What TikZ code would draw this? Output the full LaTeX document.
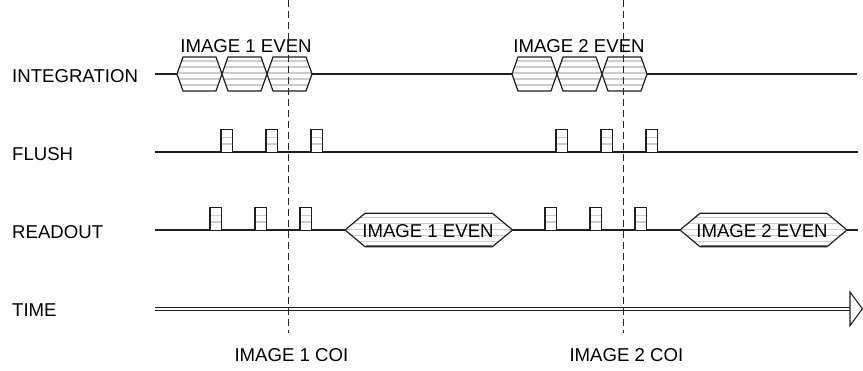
\documentclass[tikz,border=0pt]{standalone}
\usepackage{fontspec}
\setmainfont{Liberation Sans}
\begin{document}
\begin{tikzpicture}[x=1pt,y=-1pt,
  sig/.style={line width=1.2pt, draw=black!88},
  stripe/.style={line width=1.5pt, draw=black!20},
  cutline/.style={line width=1.5pt, draw=black!85, dash pattern=on 7pt off 4pt},
  lbl/.style={anchor=base west, inner sep=0pt, font=\fontsize{18.6}{20}\selectfont},
  txt/.style={anchor=base, inner sep=0pt, font=\fontsize{18.6}{20}\selectfont}]
\useasboundingbox (0,0) rectangle (863,370);

% horizontal grey hatching between two heights
\newcommand\tdstripes[4]{%
  \pgfmathsetmacro\tdsa{#3+4}\pgfmathsetmacro\tdsb{#3+10}\pgfmathsetmacro\tdse{#4-2}%
  \foreach \yy in {\tdsa,\tdsb,...,\tdse} \draw[stripe] (#1,\yy) -- (#2,\yy);}

% hexagonal bus segment: name, left tip, right tip, mid y, half height, inset
\newcommand\tdhex[6]{%
  \pgfmathsetmacro\hxa{#2}\pgfmathsetmacro\hxb{#3}\pgfmathsetmacro\hym{#4}%
  \pgfmathsetmacro\hyt{#4-#5}\pgfmathsetmacro\hyb{#4+#5}%
  \pgfmathsetmacro\hia{#2+#6}\pgfmathsetmacro\hib{#3-#6}%
  \coordinate (#1) at ({(\hxa+\hxb)/2},\hym);
  \fill[white] (\hxa,\hym) -- (\hia,\hyt) -- (\hib,\hyt) -- (\hxb,\hym) -- (\hib,\hyb) -- (\hia,\hyb) -- cycle;
  \begin{scope}
    \clip (\hxa,\hym) -- (\hia,\hyt) -- (\hib,\hyt) -- (\hxb,\hym) -- (\hib,\hyb) -- (\hia,\hyb) -- cycle;
    \tdstripes{\hxa}{\hxb}{\hyt}{\hyb}
  \end{scope}
  \draw[sig, line join=miter] (\hxa,\hym) -- (\hia,\hyt) -- (\hib,\hyt) -- (\hxb,\hym) -- (\hib,\hyb) -- (\hia,\hyb) -- cycle;}

% short pulse box standing on a signal line: name, left x, line y
\newcommand\tdpulse[3]{%
  \pgfmathsetmacro\pxa{#2}\pgfmathsetmacro\pxb{#2+11.5}%
  \pgfmathsetmacro\pyb{#3}\pgfmathsetmacro\pyt{#3-22.5}%
  \coordinate (#1) at ({(\pxa+\pxb)/2},\pyt);
  \fill[white] (\pxa,\pyt) rectangle (\pxb,\pyb);
  \draw[stripe] (\pxa,{\pyt+8}) -- (\pxb,{\pyt+8});
  \draw[stripe] (\pxa,{\pyt+14.5}) -- (\pxb,{\pyt+14.5});
  \draw[sig] (\pxa,\pyb) -- (\pxa,\pyt) -- (\pxb,\pyt) -- (\pxb,\pyb);}

% row labels
\node[lbl] (lint)  at (12,82)  {INTEGRATION};
\node[lbl] (lflu)  at (12,160.5) {FLUSH};
\node[lbl] (lrd)   at (12,238) {READOUT};
\node[lbl] (ltime) at (12,316) {TIME};

% signal lines
\coordinate (intA) at (155,74);   \coordinate (intB) at (857,74);
\coordinate (fluA) at (155,152);  \coordinate (fluB) at (857.5,152);
\coordinate (rdA)  at (155,230);  \coordinate (rdB)  at (857.5,230);
\draw[sig] (intA) -- (intB);
\draw[sig] (fluA) -- (fluB);
\draw[sig] (rdA) -- (rdB);

% integration windows
\tdhex{i1a}{177}{222}{74}{17}{6}
\tdhex{i1b}{222}{267}{74}{17}{6}
\tdhex{i1c}{267}{312}{74}{17}{6}
\tdhex{i2a}{512}{557}{74}{17}{6}
\tdhex{i2b}{557}{602}{74}{17}{6}
\tdhex{i2c}{602}{647}{74}{17}{6}
\node[txt] (e1) at (246,52) {IMAGE 1 EVEN};
\node[txt] (e2) at (579,52) {IMAGE 2 EVEN};

% flush pulses
\foreach \xx [count=\k] in {221,266,311,556,601,646} {\tdpulse{f\k}{\xx}{152}}
% readout pulses
\foreach \xx [count=\k] in {210,255,300,545,590,635} {\tdpulse{r\k}{\xx}{230}}

% readout windows
\tdhex{ro1}{345}{512.5}{230}{16.7}{20}
\tdhex{ro2}{680}{847}{230}{16.7}{20}
\draw[line width=1.4pt, draw=black!55] (365.5,245.5) -- (492,245.5);
\draw[line width=1.4pt, draw=black!55] (700.5,245.5) -- (827,245.5);
\node[txt] (re1) at (428,237) {IMAGE 1 EVEN};
\node[txt] (re2) at (762,237) {IMAGE 2 EVEN};

% time axis
\coordinate (tA) at (155,309.3);
\coordinate (tB) at (850,309.3);
\draw[double=white, double distance=2.3pt, line width=0.9pt, draw=black!88] (tA) -- (tB);
\draw[line width=1.1pt, draw=black!88, fill=white, line join=miter]
  (850,292) -- (862.4,308.8) -- (850,325.6) -- cycle;

% instants of interest
\coordinate (c1t) at (288.5,0);   \coordinate (c1b) at (288.5,333);
\coordinate (c2t) at (623.5,0);   \coordinate (c2b) at (623.5,333);
\draw[cutline] (c1t) -- (c1b);
\draw[cutline] (c2t) -- (c2b);
\node[txt] (coi1) at (291.4,361) {IMAGE 1 COI};
\node[txt] (coi2) at (626.4,361) {IMAGE 2 COI};
\end{tikzpicture}
\end{document}
